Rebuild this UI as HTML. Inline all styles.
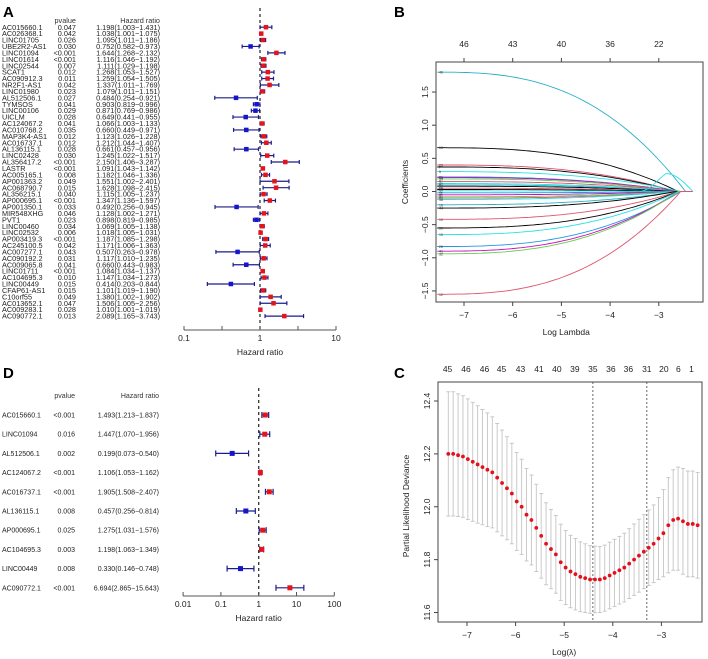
<!DOCTYPE html>
<html><head><meta charset="utf-8">
<style>
html,body{margin:0;padding:0;background:#fff;}
svg{display:block;font-family:"Liberation Sans",Arial,sans-serif;}
</style></head>
<body>
<svg id="fig" width="708" height="659" viewBox="0 0 708 659" xmlns="http://www.w3.org/2000/svg">
<rect width="708" height="659" fill="#fff"/>
<text x="3" y="17" font-size="15" font-weight="bold">A</text>
<text x="394" y="17" font-size="15" font-weight="bold">B</text>
<text x="394" y="378" font-size="15" font-weight="bold">C</text>
<text x="3" y="378" font-size="15" font-weight="bold">D</text>
<g id="gA"></g>
<g id="gD"></g>
<g id="gB"></g>
<g id="gC"></g>
</svg>
<script>
// ---------- Panel A data ----------
const aGenes = ["AC015660.1","AC026368.1","LINC01705","UBE2R2-AS1","LINC01094","LINC01614","LINC02544","SCAT1","AC090912.3","NR2F1-AS1","LINC01980","AL512506.1","TYMSOS","LINC00106","UICLM","AC124067.2","AC010768.2","MAP3K4-AS1","AC016737.1","AL136115.1","LINC02428","AL356417.2","LASTR","AC005165.1","AP001363.2","AC068790.7","AL356215.1","AP000695.1","AP001350.1","MIR548XHG","PVT1","LINC00460","LINC02532","AP003419.3","AC245100.5","AC007277.1","AC090192.2","AC009065.8","LINC01711","AC104695.3","LINC00449","CFAP61-AS1","C10orf55","AC013652.1","AC009283.1","AC090772.1"];
const aPvals = ["0.047","0.042","0.026","0.030","<0.001","<0.001","0.007","0.012","0.011","0.042","0.023","0.027","0.041","0.029","0.028","0.041","0.035","0.012","0.012","0.028","0.030","<0.001","<0.001","0.008","0.049","0.015","0.040","<0.001","0.033","0.046","0.023","0.034","0.006","<0.001","0.042","0.043","0.031","0.041","<0.001","0.010","0.015","0.015","0.049","0.047","0.028","0.013"];
const aHR = [1.198,1.038,1.095,0.752,1.644,1.116,1.111,1.268,1.259,1.337,1.079,0.484,0.903,0.871,0.649,1.066,0.660,1.123,1.212,0.661,1.245,2.150,1.091,1.182,1.551,1.628,1.115,1.347,0.492,1.128,0.898,1.069,1.018,1.187,1.171,0.507,1.117,0.660,1.084,1.147,0.414,1.101,1.380,1.506,1.010,2.089];
const aLo = [1.003,1.001,1.011,0.582,1.268,1.046,1.029,1.053,1.054,1.011,1.011,0.254,0.819,0.769,0.441,1.003,0.449,1.026,1.044,0.457,1.022,1.406,1.043,1.046,1.002,1.098,1.005,1.136,0.256,1.002,0.819,1.005,1.005,1.085,1.006,0.263,1.010,0.443,1.034,1.034,0.203,1.019,1.002,1.005,1.001,1.165];
const aHi = [1.431,1.075,1.186,0.973,2.132,1.192,1.198,1.527,1.505,1.769,1.151,0.921,0.996,0.986,0.955,1.133,0.971,1.228,1.407,0.956,1.517,3.287,1.142,1.336,2.401,2.415,1.237,1.597,0.945,1.271,0.985,1.138,1.031,1.298,1.363,0.978,1.235,0.983,1.137,1.273,0.844,1.190,1.902,2.256,1.019,3.743];
const aTicks = [0.1,1,10];
// ---------- Panel D data ----------
const dGenes = ["AC015660.1","LINC01094","AL512506.1","AC124067.2","AC016737.1","AL136115.1","AP000695.1","AC104695.3","LINC00449","AC090772.1"];
const dPvals = ["<0.001","0.016","0.002","<0.001","<0.001","0.008","0.025","0.003","0.008","<0.001"];
const dHR = [1.493,1.447,0.199,1.106,1.905,0.457,1.275,1.198,0.330,6.694];
const dLo = [1.213,1.070,0.073,1.053,1.508,0.256,1.031,1.063,0.146,2.865];
const dHi = [1.837,1.956,0.540,1.162,2.407,0.814,1.576,1.349,0.748,15.643];
const dTicks = [0.01,0.1,1,10,100];
// ---------- Panel B data ----------
const bStart = [1.80,0.66,0.40,0.37,0.30,0.22,0.21,0.19,0.15,0.12,0.10,0.08,0.05,0.03,0.01,-0.02,-0.05,-0.08,-0.10,-0.12,-0.20,-0.25,-0.42,-0.55,-0.65,-0.83,-0.90,-0.94,-1.55];
const bZero  = [-2.45,-2.6,-2.65,-2.65,-2.55,-2.65,-2.6,-2.65,-2.55,-2.6,-2.65,-2.65,-2.6,-2.55,-2.65,-2.6,-2.65,-2.6,-2.55,-2.65,-2.6,-2.65,-2.6,-2.6,-2.6,-2.55,-2.6,-2.6,-2.55];
const bLabels = ["46","13","29","7","5","21","14","33","9","40","2","37","18","25","31","11","42","3","27","36","16","44","10","30","15","26","41","32","12"];
const bTopTicks = [-7,-6,-5,-4,-3];
const bTopLabels = ["46","43","40","36","22"];
const bXTicks = [-7,-6,-5,-4,-3];
const bYTicks = [-1.5,-1.0,-0.5,0.0,0.5,1.0,1.5];
// ---------- Panel C data ----------
const cMean = [12.20,12.20,12.195,12.19,12.18,12.17,12.16,12.15,12.14,12.13,12.11,12.09,12.07,12.05,12.02,12.00,11.97,11.95,11.92,11.89,11.86,11.84,11.82,11.79,11.77,11.755,11.745,11.735,11.73,11.725,11.725,11.725,11.73,11.74,11.75,11.76,11.77,11.785,11.80,11.815,11.83,11.845,11.86,11.88,11.90,11.93,11.95,11.955,11.945,11.935,11.935,11.93];
const cSE = [0.235,0.235,0.232,0.23,0.228,0.225,0.222,0.218,0.215,0.21,0.205,0.2,0.195,0.19,0.185,0.18,0.175,0.17,0.165,0.16,0.155,0.15,0.147,0.144,0.14,0.137,0.135,0.132,0.13,0.128,0.126,0.125,0.125,0.126,0.127,0.128,0.13,0.132,0.135,0.138,0.14,0.143,0.147,0.155,0.165,0.18,0.19,0.195,0.2,0.2,0.2,0.2];
const cStartLambda = -7.385, cStepLambda = 0.1006;
const cTopPos = [-7.40,-7.02,-6.64,-6.29,-5.90,-5.52,-5.15,-4.78,-4.41,-4.04,-3.68,-3.30,-2.95,-2.65,-2.38];
const cTopLabels = ["45","46","46","45","43","41","40","39","35","36","36","31","20","6","1"];
const cVLines = [-4.41,-3.30];
const cXTicks = [-7,-6,-5,-4,-3];
const cYTicks = [11.6,11.8,12.0,12.2,12.4];

const NS="http://www.w3.org/2000/svg";
function mk(parent, tag, attrs, txt){
  const e=document.createElementNS(NS,tag);
  for(const k in attrs) e.setAttribute(k,attrs[k]);
  if(txt!==undefined) e.textContent=txt;
  parent.appendChild(e); return e;
}
const NAVY="#1c1c8a", RED="#e5141b", BLUE="#1515cc";

function forest(g, genes, pvals, hr, lo, hi, ticks, cfg){
  const xs = v => cfg.x1 + Math.log10(v)*cfg.dec;
  let t;
  t=mk(g,"text",{x:cfg.pvX,y:cfg.hdrY,"font-size":cfg.fs,"text-anchor":"end",fill:"#333"},"pvalue");
   
  t=mk(g,"text",{x:cfg.hrX,y:cfg.hdrY,"font-size":cfg.fs,"text-anchor":"end",fill:"#333"},"Hazard ratio");
   
  const dl=mk(g,"line",{x1:xs(1),x2:xs(1),y1:cfg.dashTop,y2:cfg.axisY,stroke:"#333","stroke-width":1.3,"stroke-dasharray":"3,3"});
   
  for(let i=0;i<genes.length;i++){
    const y=cfg.y0+i*cfg.step;
    const row=mk(g,"g",{});
     
    mk(row,"text",{x:2,y:y+cfg.fs*0.35,"font-size":cfg.fs,fill:"#222"},genes[i]);
    mk(row,"text",{x:cfg.pvX,y:y+cfg.fs*0.35,"font-size":cfg.fs,"text-anchor":"end",fill:"#222"},pvals[i]);
    mk(row,"text",{x:cfg.hrX,y:y+cfg.fs*0.35,"font-size":cfg.fs,"text-anchor":"end",fill:"#222"},
      hr[i].toFixed(3)+"("+lo[i].toFixed(3)+"\u2212"+hi[i].toFixed(3)+")");
    const a=xs(lo[i]), b=xs(hi[i]);
    const ci=mk(row,"line",{x1:a,x2:b,y1:y,y2:y,stroke:NAVY,"stroke-width":1.2});
     
    mk(row,"line",{x1:a,x2:a,y1:y-cfg.cap,y2:y+cfg.cap,stroke:NAVY,"stroke-width":1.2});
    mk(row,"line",{x1:b,x2:b,y1:y-cfg.cap,y2:y+cfg.cap,stroke:NAVY,"stroke-width":1.2});
    const s=cfg.sq;
    const sq=mk(row,"rect",{x:xs(hr[i])-s/2,y:y-s/2,width:s,height:s,fill:hr[i]>1?RED:BLUE});
     
  }
  const ax=mk(g,"g",{});
   
  const lo0=xs(ticks[0]), hi0=xs(ticks[ticks.length-1]);
  mk(ax,"line",{x1:lo0,x2:hi0,y1:cfg.axisY,y2:cfg.axisY,stroke:"#555","stroke-width":1});
  for(let i=0;i<ticks.length;i++){
    const x=xs(ticks[i]);
    mk(ax,"line",{x1:x,x2:x,y1:cfg.axisY,y2:cfg.axisY-4,stroke:"#555"});
    mk(ax,"text",{x:x,y:cfg.axisY+11,"font-size":8.5,"text-anchor":"middle",fill:"#222"},String(ticks[i]));
    if(cfg.mid && i<ticks.length-1){
      const xm=(x+xs(ticks[i+1]))/2;
      mk(ax,"line",{x1:xm,x2:xm,y1:cfg.axisY,y2:cfg.axisY-4,stroke:"#555"});
    }
  }
  t=mk(ax,"text",{x:xs(1),y:cfg.axisY+25,"font-size":8.5,"text-anchor":"middle",fill:"#222"},"Hazard ratio");
   
}
forest(document.getElementById("gA"),aGenes,aPvals,aHR,aLo,aHi,aTicks,
  {x1:260,dec:76,y0:27.2,step:6.42,fs:7.3,pvX:76,hrX:160,hdrY:23,dashTop:8,axisY:330,cap:2,sq:4.5,mid:true});
forest(document.getElementById("gD"),dGenes,dPvals,dHR,dLo,dHi,dTicks,
  {x1:258.7,dec:37.8,y0:415,step:19.2,fs:7,pvX:75,hrX:159,hdrY:398,dashTop:388,axisY:596,cap:3,sq:5,mid:false});

// ---------- Panel B ----------
(function(){
  const g=document.getElementById("gB");
  const X=v=>464+(v+7)*48.7, Y=v=>191.5-v*66.3;
  const pal=["#28B0C5","#000000","#DF536B","#000000","#28E2E5","#2297E6","#CD0BBC","#61D04F","#DF536B","#28E2E5"];
  const L=436,R=703,T=62,B=302;
  const x0=-7.55;
  for(let i=0;i<bStart.length;i++){
    let d="";
    for(let k=0;k<=60;k++){
      const xv=x0+(bZero[i]-x0)*k/60, tt=k/60;
      const v=bStart[i]*(1-Math.pow(tt,2.7));
      d+=(k?"L":"M")+X(xv).toFixed(1)+","+Y(v).toFixed(1);
    }
    d+="L"+X(-2.3)+","+Y(0);
    const p=mk(g,"path",{d:d,fill:"none",stroke:pal[i%pal.length],"stroke-width":0.9});
     
    mk(g,"text",{x:439,y:Y(bStart[i])+1.5,"font-size":3.5,fill:"#333"},bLabels[i]);
  }
  let d="";
  for(let k=0;k<=30;k++){const xv=-3.4+1.1*k/30; const v=0.27*Math.sin(Math.PI*k/30)*(k<15?k/15:1); d+=(k?"L":"M")+X(xv).toFixed(1)+","+Y(v).toFixed(1);}
  const pb=mk(g,"path",{d:d,fill:"none",stroke:"#28E2E5","stroke-width":0.9});
   
  const box=mk(g,"rect",{x:L,y:T,width:R-L,height:B-T,fill:"none",stroke:"#444","stroke-width":1});
   
  bXTicks.forEach(v=>{mk(g,"line",{x1:X(v),x2:X(v),y1:B,y2:B+4,stroke:"#444"});
    mk(g,"text",{x:X(v),y:B+16,"font-size":8.5,"text-anchor":"middle",fill:"#222"},"\u2212"+Math.abs(v));});
  bTopTicks.forEach((v,i)=>{mk(g,"line",{x1:X(v),x2:X(v),y1:T,y2:T-4,stroke:"#444"});
    mk(g,"text",{x:X(v),y:T-15,"font-size":8.5,"text-anchor":"middle",fill:"#222"},bTopLabels[i]);});
  bYTicks.forEach(v=>{mk(g,"line",{x1:L,x2:L-4,y1:Y(v),y2:Y(v),stroke:"#444"});
    const s=(v<0?"\u2212":"")+Math.abs(v).toFixed(1);
    mk(g,"text",{x:L-8,y:Y(v),"font-size":8.5,"text-anchor":"middle",fill:"#222",transform:`rotate(-90 ${L-8} ${Y(v)})`},s);});
  let t=mk(g,"text",{x:X(-4.9),y:335,"font-size":8.5,"text-anchor":"middle",fill:"#222"},"Log Lambda");
   
  t=mk(g,"text",{x:408,y:182,"font-size":8.5,"text-anchor":"middle",fill:"#222",transform:"rotate(-90 408 182)"},"Coefficients");
   
})();

// ---------- Panel C ----------
(function(){
  const g=document.getElementById("gC");
  const X=v=>467+(v+7)*48.6, Y=v=>401+(12.4-v)*264.4;
  const L=438,R=702,T=382,B=622;
  for(let i=0;i<cMean.length;i++){
    const lv=cStartLambda+i*cStepLambda, x=X(lv);
    const up=Y(cMean[i]+cSE[i]), dn=Y(cMean[i]-cSE[i]);
    const eb=mk(g,"g",{});
     
    mk(eb,"line",{x1:x,x2:x,y1:up,y2:dn,stroke:"#c4c4c4","stroke-width":0.9});
    mk(eb,"line",{x1:x-2,x2:x+2,y1:up,y2:up,stroke:"#c4c4c4","stroke-width":0.9});
    mk(eb,"line",{x1:x-2,x2:x+2,y1:dn,y2:dn,stroke:"#c4c4c4","stroke-width":0.9});
  }
  cVLines.forEach(v=>{const l=mk(g,"line",{x1:X(v),x2:X(v),y1:T,y2:B,stroke:"#555","stroke-width":0.9,"stroke-dasharray":"2,2"});
     });
  for(let i=0;i<cMean.length;i++){
    const lv=cStartLambda+i*cStepLambda;
    const c=mk(g,"circle",{cx:X(lv),cy:Y(cMean[i]),r:1.9,fill:"#e4101c"});
     
  }
  const box=mk(g,"rect",{x:L,y:T,width:R-L,height:B-T,fill:"none",stroke:"#444","stroke-width":1});
   
  cXTicks.forEach(v=>{mk(g,"line",{x1:X(v),x2:X(v),y1:B,y2:B+4,stroke:"#444"});
    mk(g,"text",{x:X(v),y:B+16,"font-size":8.5,"text-anchor":"middle",fill:"#222"},"\u2212"+Math.abs(v));});
  cTopPos.forEach((v,i)=>{mk(g,"text",{x:X(v),y:372,"font-size":8.5,"text-anchor":"middle",fill:"#222"},cTopLabels[i]);});
  cYTicks.forEach(v=>{mk(g,"line",{x1:L,x2:L-4,y1:Y(v),y2:Y(v),stroke:"#444"});
    mk(g,"text",{x:L-8,y:Y(v),"font-size":8.5,"text-anchor":"middle",fill:"#222",transform:`rotate(-90 ${L-8} ${Y(v)})`},v.toFixed(1));});
  let t=mk(g,"text",{x:X(-5),y:655,"font-size":8.5,"text-anchor":"middle",fill:"#222"},"Log(\u03bb)");
   
  t=mk(g,"text",{x:409,y:506,"font-size":8.5,"text-anchor":"middle",fill:"#222",transform:"rotate(-90 409 506)"},"Partial Likelihood Deviance");
   
})();
</script>
</body></html>
